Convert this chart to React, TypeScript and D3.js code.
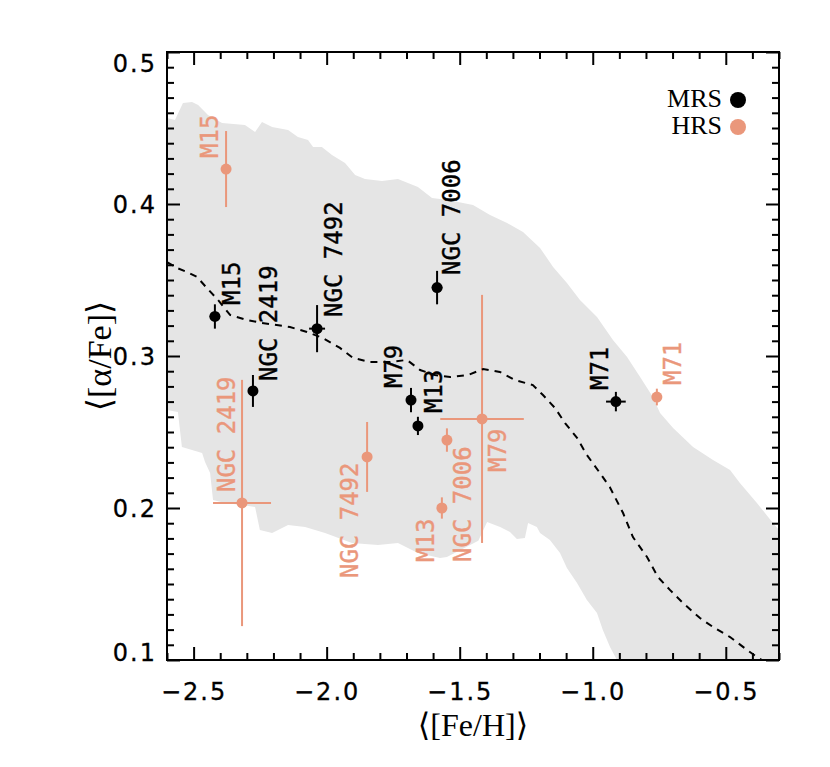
import React, { useEffect, useRef } from 'react';
import * as d3 from 'd3';

// globular clusters, same order for both samples
const clusters = ['M15', 'NGC 2419', 'NGC 7492', 'NGC 7006', 'M79', 'M13', 'M71'];

// medium-resolution sample (black)
const mrsFe = [-2.42, -2.277, -2.036, -1.585, -1.683, -1.657, -0.913];
const mrsFeErr = [0.02, 0.015, 0.03, 0.02, 0.015, 0.015, 0.037];
const mrsAlpha = [0.326, 0.277, 0.318, 0.345, 0.271, 0.254, 0.27];
const mrsAlphaErr = [0.008, 0.0105, 0.0155, 0.011, 0.008, 0.006, 0.0064];
const mrsLabelFe = [-2.326, -2.187, -1.942, -1.499, -1.717, -1.567, -0.943];
const mrsLabelAlpha = [0.3336, 0.2836, 0.3257, 0.3533, 0.2789, 0.2625, 0.2776];

// high-resolution sample (salmon)
const hrsFe = [-2.378, -2.318, -1.848, -1.548, -1.416, -1.567, -0.759];
const hrsFeErr = [0.01, 0.109, 0.01, 0.01, 0.157, 0.01, 0.01];
const hrsAlpha = [0.423, 0.2033, 0.2336, 0.2447, 0.2586, 0.2, 0.273];
const hrsAlphaErr = [0.025, 0.081, 0.023, 0.0077, 0.0816, 0.007, 0.0055];
const hrsLabelFe = [-2.408, -2.344, -1.882, -1.458, -1.326, -1.597, -0.668];
const hrsLabelAlpha = [0.4303, 0.2105, 0.1539, 0.1645, 0.2237, 0.1645, 0.2809];

// shaded field-star band
const bandUpperFe = [-2.6, -2.57, -2.54, -2.506, -2.483, -2.446, -2.393, -2.307, -2.269, -2.243, -2.205, -2.145, -2.108, -2.07, -2.051, -2.018, -1.98, -1.931, -1.893, -1.856, -1.792, -1.732, -1.657, -1.604, -1.544, -1.45, -1.386, -1.322, -1.262, -1.198, -1.149, -1.097, -1.048, -0.984, -0.924, -0.871, -0.822, -0.774, -0.747, -0.698, -0.623, -0.548, -0.484, -0.447, -0.383, -0.323, -0.3];
const bandUpperAlpha = [0.4566, 0.4553, 0.4664, 0.4671, 0.4651, 0.4586, 0.4533, 0.452, 0.4474, 0.4539, 0.4507, 0.4487, 0.4441, 0.4421, 0.4375, 0.4375, 0.4322, 0.427, 0.4191, 0.4164, 0.4151, 0.4164, 0.4112, 0.4039, 0.4026, 0.3993, 0.3928, 0.3875, 0.3816, 0.3711, 0.3586, 0.348, 0.3368, 0.3257, 0.3105, 0.2993, 0.2862, 0.273, 0.2625, 0.2526, 0.2401, 0.2316, 0.225, 0.2164, 0.2033, 0.1901, 0.1855];
const bandLowerFe = [-2.6, -2.559, -2.544, -2.506, -2.468, -2.457, -2.438, -2.427, -2.382, -2.318, -2.269, -2.251, -2.205, -2.145, -2.081, -2.006, -1.905, -1.807, -1.732, -1.657, -1.574, -1.548, -1.43, -1.397, -1.348, -1.311, -1.285, -1.255, -1.243, -1.21, -1.198, -1.161, -1.123, -1.097, -1.059, -1.022, -0.984, -0.962, -0.935, -0.909, -0.85, -0.3];
const bandLowerAlpha = [0.2645, 0.2632, 0.2401, 0.2382, 0.2362, 0.2303, 0.223, 0.2053, 0.2033, 0.202, 0.2007, 0.1855, 0.1836, 0.1888, 0.1875, 0.1836, 0.177, 0.1757, 0.177, 0.1704, 0.1671, 0.1678, 0.1785, 0.1908, 0.1875, 0.1842, 0.1796, 0.1803, 0.1901, 0.1875, 0.1836, 0.1789, 0.1704, 0.1605, 0.1507, 0.1395, 0.1309, 0.1197, 0.1086, 0.1, 0.07, 0.07];

// dashed mean trend
const meanFe = [-2.6, -2.562, -2.525, -2.487, -2.45, -2.408, -2.363, -2.299, -2.243, -2.138, -2.074, -2.014, -1.95, -1.901, -1.837, -1.762, -1.698, -1.649, -1.593, -1.536, -1.469, -1.412, -1.349, -1.292, -1.225, -1.187, -1.142, -1.104, -1.059, -1.022, -0.973, -0.936, -0.886, -0.849, -0.796, -0.755, -0.71, -0.661, -0.597, -0.548, -0.484, -0.42, -0.383, -0.334];
const meanAlpha = [0.3618, 0.3579, 0.3553, 0.352, 0.3447, 0.3368, 0.327, 0.3237, 0.3217, 0.3191, 0.3158, 0.3118, 0.3053, 0.2987, 0.2961, 0.2961, 0.2974, 0.2908, 0.2875, 0.2862, 0.2875, 0.2914, 0.2895, 0.2842, 0.2809, 0.2743, 0.2658, 0.2559, 0.2461, 0.2349, 0.223, 0.2138, 0.1967, 0.1809, 0.1678, 0.1546, 0.1461, 0.1375, 0.1276, 0.1217, 0.1151, 0.1066, 0.102, 0.0967];

const xMajor = [-2.5, -2.0, -1.5, -1.0, -0.5];
const yMajor = [0.1, 0.2, 0.3, 0.4, 0.5];

const SALMON = '#EA977B';

function App() {
  const ref = useRef<SVGSVGElement>(null);

  useEffect(() => {
    const svg = d3.select(ref.current);
    svg.selectAll('*').remove();
    const width = 830;
    const height = 767;
    const margin = { top: 52, right: 51, bottom: 107, left: 167 };

    const x = d3.scaleLinear().domain([-2.6, -0.3]).range([margin.left, width - margin.right]);
    const y = d3.scaleLinear().domain([0.1, 0.5]).range([height - margin.bottom, margin.top]);
    const x0 = x.range()[0];
    const x1 = x.range()[1];
    const y0 = y.range()[0];
    const y1 = y.range()[1];

    svg
      .append('clipPath')
      .attr('id', 'plot-clip')
      .append('rect')
      .attr('x', x0)
      .attr('y', y1)
      .attr('width', x1 - x0)
      .attr('height', y0 - y1);

    const plot = svg.append('g').attr('clip-path', 'url(#plot-clip)');

    // band
    const upper = bandUpperFe.map((f, i) => [x(f), y(bandUpperAlpha[i])] as [number, number]);
    const lower = bandLowerFe.map((f, i) => [x(f), y(bandLowerAlpha[i])] as [number, number]);
    plot
      .append('path')
      .attr('d', d3.line()(upper.concat(lower.slice().reverse())) + 'Z')
      .attr('fill', '#e5e5e5');

    // error bars + points
    const drawSample = (fe, feErr, al, alErr, color) => {
      fe.forEach((f, i) => {
        const g = plot.append('g');
        g.append('line')
          .attr('x1', x(f - feErr[i]))
          .attr('x2', x(f + feErr[i]))
          .attr('y1', y(al[i]))
          .attr('y2', y(al[i]))
          .attr('stroke', color)
          .attr('stroke-width', 2);
        g.append('line')
          .attr('x1', x(f))
          .attr('x2', x(f))
          .attr('y1', y(al[i] - alErr[i]))
          .attr('y2', y(al[i] + alErr[i]))
          .attr('stroke', color)
          .attr('stroke-width', 2);
        g.append('circle')
          .attr('cx', x(f))
          .attr('cy', y(al[i]))
          .attr('r', 5.5)
          .attr('fill', color);
      });
    };
    drawSample(hrsFe, hrsFeErr, hrsAlpha, hrsAlphaErr, SALMON);
    drawSample(mrsFe, mrsFeErr, mrsAlpha, mrsAlphaErr, '#000');

    // rotated cluster labels
    const drawLabels = (lf, la, color) => {
      clusters.forEach((name, i) => {
        plot
          .append('text')
          .attr('transform', `translate(${x(lf[i])},${y(la[i])}) rotate(-90)`)
          .attr('font-family', '"DejaVu Sans Mono", monospace')
          .attr('font-size', 24)
          .attr('fill', color)
          .attr('stroke', color)
          .attr('stroke-width', 0.4)
          .text(name);
      });
    };
    drawLabels(hrsLabelFe, hrsLabelAlpha, SALMON);
    drawLabels(mrsLabelFe, mrsLabelAlpha, '#000');

    // dashed mean line
    const line = d3
      .line<number>()
      .x(d => x(d))
      .y((d, i) => y(meanAlpha[i]));
    plot
      .append('path')
      .datum(meanFe)
      .attr('fill', 'none')
      .attr('stroke', '#000')
      .attr('stroke-width', 2)
      .attr('stroke-dasharray', '7,6')
      .attr('d', line);

    // ticks (inward on all four sides)
    const xMinor = d3.range(-2.6, -0.29, 0.1).map(v => +v.toFixed(1)).filter(v => !xMajor.includes(v));
    const yMinor = d3.range(0.1, 0.501, 0.01).map(v => +v.toFixed(2)).filter(v => !yMajor.includes(v));
    const tickStyle = g => {
      g.select('.domain').remove();
      g.selectAll('line').attr('stroke-width', 2);
    };

    svg.append('g').attr('transform', `translate(0,${y0})`)
      .call(d3.axisBottom(x).tickValues(xMinor).tickSize(-7).tickFormat(() => '')).call(tickStyle);
    svg.append('g').attr('transform', `translate(0,${y1})`)
      .call(d3.axisTop(x).tickValues(xMinor).tickSize(-7).tickFormat(() => '')).call(tickStyle);
    svg.append('g').attr('transform', `translate(0,${y1})`)
      .call(d3.axisTop(x).tickValues(xMajor).tickSize(-13).tickFormat(() => '')).call(tickStyle);
    svg.append('g').attr('transform', `translate(${x0},0)`)
      .call(d3.axisLeft(y).tickValues(yMinor).tickSize(-7).tickFormat(() => '')).call(tickStyle);
    svg.append('g').attr('transform', `translate(${x1},0)`)
      .call(d3.axisRight(y).tickValues(yMinor).tickSize(-7).tickFormat(() => '')).call(tickStyle);
    svg.append('g').attr('transform', `translate(${x1},0)`)
      .call(d3.axisRight(y).tickValues(yMajor).tickSize(-13).tickFormat(() => '')).call(tickStyle);

    const labelStyle = sel =>
      sel
        .attr('font-family', '"DejaVu Sans", sans-serif')
        .attr('font-size', 24)
        .attr('letter-spacing', 2)
        .attr('fill', '#000')
        .attr('stroke', '#000')
        .attr('stroke-width', 0.3);

    const xAxis = svg
      .append('g')
      .attr('transform', `translate(0,${y0})`)
      .call(d3.axisBottom(x).tickValues(xMajor).tickSize(-13).tickPadding(23).tickFormat(d3.format('.1f')))
      .call(tickStyle);
    xAxis.selectAll('text').call(labelStyle);

    const yAxis = svg
      .append('g')
      .attr('transform', `translate(${x0},0)`)
      .call(d3.axisLeft(y).tickValues(yMajor).tickSize(-13).tickPadding(10).tickFormat(d3.format('.1f')))
      .call(tickStyle);
    yAxis.selectAll('text')
      .call(labelStyle)
      .attr('dy', d => (d === 0.5 ? '0.82em' : d === 0.1 ? '0.02em' : '0.36em'));

    // frame
    svg
      .append('rect')
      .attr('x', x0)
      .attr('y', y1)
      .attr('width', x1 - x0)
      .attr('height', y0 - y1)
      .attr('fill', 'none')
      .attr('stroke', '#000')
      .attr('stroke-width', 2);

    // axis titles
    svg
      .append('text')
      .attr('x', (x0 + x1) / 2)
      .attr('y', 736)
      .attr('text-anchor', 'middle')
      .attr('font-family', '"Liberation Serif", "DejaVu Serif", serif')
      .attr('font-size', 32)
      .text('\u27E8[Fe/H]\u27E9');
    svg
      .append('text')
      .attr('transform', `translate(111,${(y0 + y1) / 2}) rotate(-90)`)
      .attr('text-anchor', 'middle')
      .attr('font-family', '"Liberation Serif", "DejaVu Serif", serif')
      .attr('font-size', 34)
      .text('\u27E8[\u03B1/Fe]\u27E9');

    // legend
    const legend = [
      { name: 'MRS', color: '#000' },
      { name: 'HRS', color: SALMON },
    ];
    legend.forEach((d, i) => {
      svg
        .append('text')
        .attr('x', 722)
        .attr('y', 107 + i * 27)
        .attr('text-anchor', 'end')
        .attr('font-family', '"Liberation Serif", serif')
        .attr('font-size', 26)
        .text(d.name);
      svg
        .append('circle')
        .attr('cx', 738)
        .attr('cy', 100 + i * 27)
        .attr('r', 8)
        .attr('fill', d.color);
    });
  }, []);

  return (
    <div>
      <svg
        ref={ref}
        width="830"
        height="767"
        style={{ position: 'absolute', left: 0, top: 0, background: '#fff' }}
      />
    </div>
  );
}

export default App;
